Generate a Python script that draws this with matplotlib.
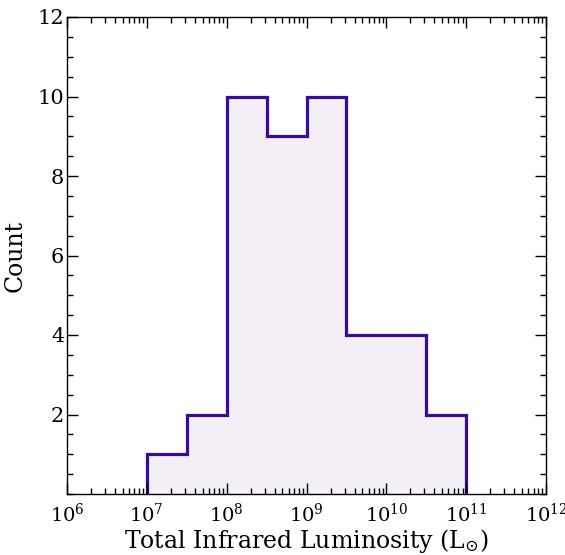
import numpy as np
import matplotlib
matplotlib.use("Agg")
import matplotlib.pyplot as plt
from matplotlib.ticker import LogFormatterMathtext, MultipleLocator, FixedLocator, LogLocator

log_edges = [7.0, 7.5, 8.0, 8.5, 9.0, 9.5, 10.0, 10.5, 11.0]
counts = [1, 2, 10, 9, 10, 4, 4, 2]
y_ticks = [2, 4, 6, 8, 10, 12]

plt.rcParams['font.family'] = 'DejaVu Serif'
plt.rcParams['mathtext.fontset'] = 'dejavuserif'

fig = plt.figure(figsize=(5.65, 5.55), dpi=100)
ax = fig.add_axes([67/565, 1-494/555, (546-67)/565, (494-17)/555])

edges = [10**e for e in log_edges]
ax.stairs(counts, edges, fill=True, color='#f4eff7', baseline=0)
ax.stairs(counts, edges, color='#3a0aa0', linewidth=2.3, baseline=0)

ax.set_xscale('log')
ax.set_xlim(1e6, 1e12)
ax.set_ylim(0, 12)
ax.yaxis.set_major_locator(FixedLocator(y_ticks))
ax.yaxis.set_minor_locator(MultipleLocator(0.5))
ax.xaxis.set_major_locator(LogLocator(base=10, numticks=20))
ax.xaxis.set_minor_locator(LogLocator(base=10, subs=np.arange(2, 10), numticks=20))
ax.xaxis.set_major_formatter(LogFormatterMathtext())

ax.tick_params(which='both', direction='in', top=True, right=True, width=1)
ax.tick_params(which='major', length=8)
ax.tick_params(axis='x', which='major', pad=6, labelsize=14)
ax.tick_params(axis='y', which='major', pad=2, labelsize=15)
ax.tick_params(which='minor', length=4)
for s in ax.spines.values():
    s.set_linewidth(1.0)

ax.set_xlabel(r'Total Infrared Luminosity ($\mathrm{L}_{\odot}$)', fontsize=17, labelpad=1)
ax.set_ylabel('Count', fontsize=17, labelpad=8)

fig.savefig('out.png', dpi=100)
